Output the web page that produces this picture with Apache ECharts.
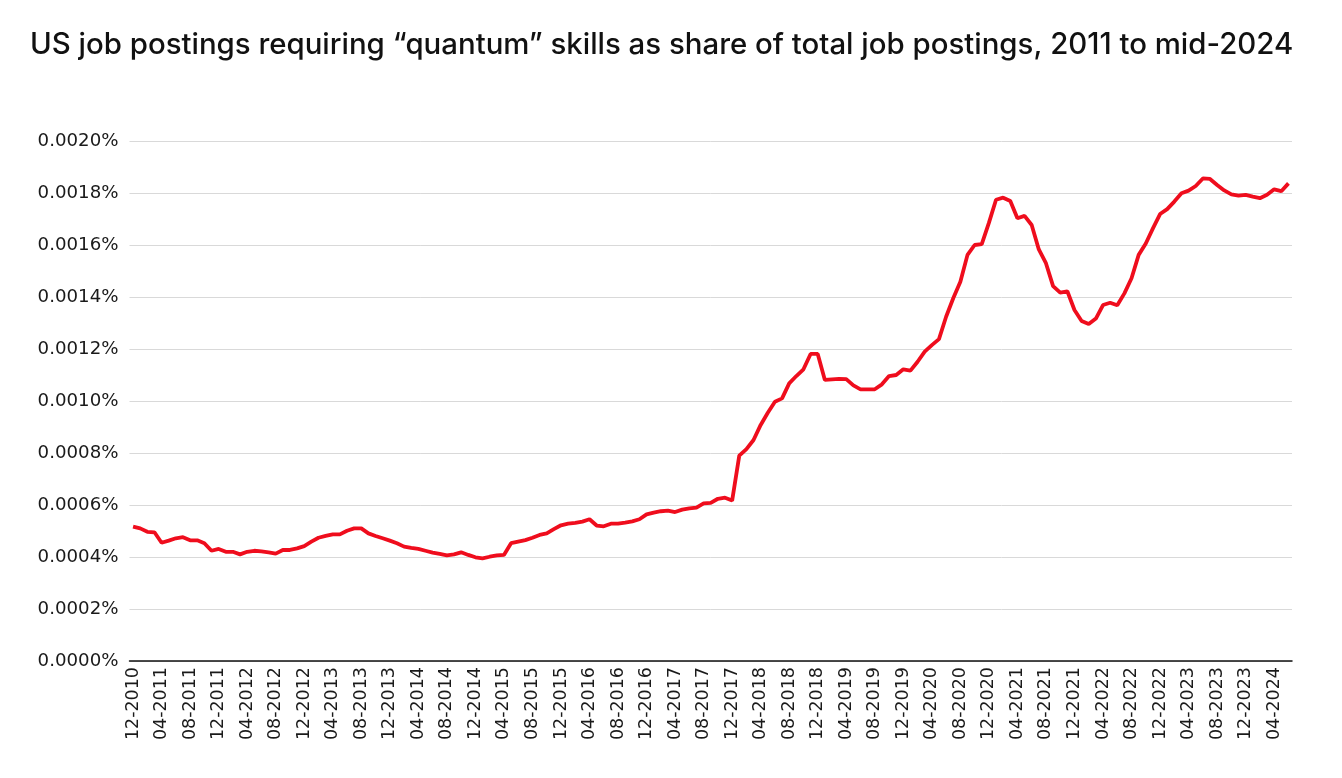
<!DOCTYPE html>
<html>
<head>
<meta charset="utf-8">
<script src="https://cdn.jsdelivr.net/npm/echarts@6/dist/echarts.min.js"></script>
<style>
html,body{margin:0;padding:0;background:#fff;}
#chart{width:1342px;height:778px;}
</style>
</head>
<body>
<div id="chart"></div>
<script>
const titleText = 'US job postings requiring \u201cquantum\u201d skills as share of total job postings, 2011 to mid-2024';

// Monthly categories: 12-2010 through 06-2024
const startYear = 2010, startMonth = 12, monthCount = 163;
const categories = [];
for (let k = 0; k < monthCount; k++) {
  const m = (startMonth - 1 + k) % 12 + 1;
  const y = startYear + Math.floor((startMonth - 1 + k) / 12);
  categories.push((m < 10 ? '0' + m : '' + m) + '-' + y);
}

// Share of total job postings, in percent
const shareValues = [
  0.000517,0.000510,0.000497,0.000495,0.000455,0.000463,0.000472,0.000476,0.000464,0.000464,
  0.000453,0.000424,0.000431,0.000420,0.000420,0.000410,0.000420,0.000424,0.000422,0.000418,
  0.000413,0.000427,0.000427,0.000433,0.000442,0.000459,0.000474,0.000481,0.000487,0.000487,
  0.000501,0.000510,0.000510,0.000491,0.000481,0.000472,0.000463,0.000453,0.000440,0.000435,
  0.000431,0.000424,0.000417,0.000412,0.000406,0.000410,0.000418,0.000408,0.000399,0.000395,
  0.000401,0.000406,0.000408,0.000453,0.000459,0.000465,0.000474,0.000485,0.000491,0.000507,
  0.000522,0.000528,0.000531,0.000536,0.000545,0.000521,0.000518,0.000528,0.000528,0.000532,
  0.000537,0.000545,0.000564,0.000571,0.000576,0.000578,0.000573,0.000582,0.000587,0.000590,
  0.000606,0.000608,0.000624,0.000628,0.000617,0.000790,0.000815,0.000850,0.000908,0.000955,
  0.000997,0.001010,0.001068,0.001096,0.001122,0.001181,0.001181,0.001081,0.001083,0.001085,
  0.001084,0.001060,0.001045,0.001045,0.001045,0.001064,0.001096,0.001100,0.001122,0.001117,
  0.001151,0.001190,0.001215,0.001238,0.001324,0.001395,0.001459,0.001562,0.001600,0.001603,
  0.001685,0.001774,0.001782,0.001769,0.001703,0.001712,0.001677,0.001583,0.001530,0.001442,
  0.001417,0.001422,0.001350,0.001308,0.001296,0.001317,0.001369,0.001378,0.001368,0.001414,
  0.001472,0.001562,0.001606,0.001664,0.001719,0.001738,0.001767,0.001799,0.001809,0.001827,
  0.001856,0.001854,0.001831,0.001810,0.001795,0.001790,0.001793,0.001786,0.001780,0.001793,
  0.001814,0.001807,0.001837
];

const yMin = 0, yMax = 0.002, yInterval = 0.0002;

const chart = echarts.init(document.getElementById('chart'), null, {renderer: 'canvas'});
chart.setOption({
  animation: false,
  backgroundColor: '#ffffff',
  title: {
    text: titleText,
    left: 25,
    top: 26,
    textStyle: {
      fontFamily: 'Inter',
      fontWeight: 500,
      fontSize: 29.4,
      color: '#111111'
    }
  },
  grid: {
    left: 129.5,
    right: 50,
    top: 141,
    bottom: 117,
    containLabel: false
  },
  xAxis: {
    type: 'category',
    data: categories,
    boundaryGap: true,
    axisLine: {show: true, lineStyle: {color: '#111111', width: 1.5}},
    axisTick: {show: false},
    axisLabel: {
      interval: 3,
      rotate: 90,
      margin: 6,
      fontFamily: 'DejaVu Sans',
      fontSize: 17.5,
      color: '#1a1a1a'
    },
    splitLine: {show: false}
  },
  yAxis: {
    type: 'value',
    min: yMin,
    max: yMax,
    interval: yInterval,
    axisLine: {show: false},
    axisTick: {show: false},
    axisLabel: {
      margin: 11,
      fontFamily: 'DejaVu Sans',
      fontSize: 18.2,
      color: '#1a1a1a',
      formatter: function (v) { return v.toFixed(4) + '%'; }
    },
    splitLine: {show: true, lineStyle: {color: '#d9d9d9', width: 1}}
  },
  series: [{
    type: 'line',
    data: shareValues,
    showSymbol: false,
    symbol: 'none',
    lineStyle: {color: '#ef0d1d', width: 3.8},
    itemStyle: {color: '#ef0d1d'}
  }]
});
</script>
</body>
</html>
